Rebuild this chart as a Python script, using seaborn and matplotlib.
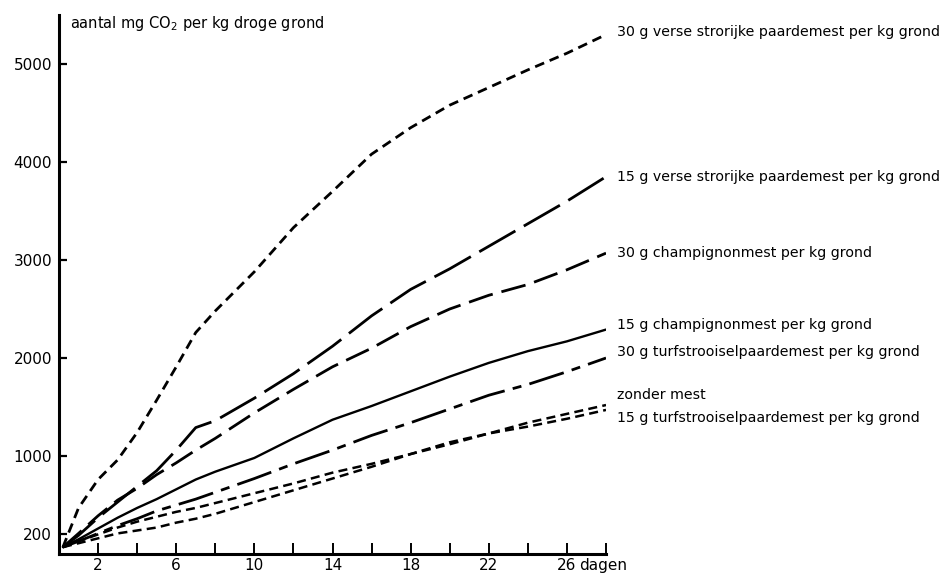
import matplotlib
matplotlib.use("Agg")
import matplotlib.pyplot as plt
import seaborn as sns
import pandas as pd

# ---- data ----
days = [0.2, 1, 2, 3, 4, 5, 6, 7, 8, 10, 12, 14, 16, 18, 20, 22, 24, 26, 28]

verse30 = [70, 470, 760, 960, 1240, 1570, 1910, 2260, 2480, 2880, 3330, 3700,
           4080, 4350, 4580, 4760, 4940, 5110, 5300]
verse15 = [70, 190, 370, 530, 690, 850, 1060, 1290, 1360, 1590, 1840, 2120,
           2430, 2700, 2910, 3140, 3370, 3600, 3850]
champ30 = [70, 210, 390, 550, 670, 810, 930, 1060, 1180, 1440, 1680, 1910,
           2100, 2320, 2500, 2640, 2750, 2900, 3070]
champ15 = [70, 150, 260, 370, 470, 560, 660, 760, 840, 980, 1180, 1370,
           1510, 1660, 1810, 1950, 2070, 2170, 2290]
turf30 = [70, 130, 210, 290, 360, 440, 500, 560, 630, 770, 920, 1060,
          1210, 1340, 1480, 1620, 1730, 1860, 2000]
zonder = [70, 130, 200, 270, 330, 380, 430, 470, 520, 620, 720, 830,
          920, 1020, 1120, 1230, 1340, 1430, 1520]
turf15 = [70, 110, 160, 210, 240, 270, 320, 360, 410, 530, 650, 770,
          890, 1020, 1140, 1230, 1300, 1380, 1470]

series_names = [
    "30 g verse strorijke paardemest per kg grond",
    "15 g verse strorijke paardemest per kg grond",
    "30 g champignonmest per kg grond",
    "15 g champignonmest per kg grond",
    "30 g turfstrooiselpaardemest per kg grond",
    "zonder mest",
    "15 g turfstrooiselpaardemest per kg grond",
]
series_values = [verse30, verse15, champ30, champ15, turf30, zonder, turf15]
label_values = [5330, 3850, 3075, 2340, 2060, 1620, 1385]

yticks = [200, 1000, 2000, 3000, 4000, 5000]
xticks_major = [2, 6, 10, 14, 18, 22, 26]
xticks_minor = [4, 8, 12, 16, 20, 24, 28]
x_unit = "dagen"
y_title = "aantal mg CO$_2$ per kg droge grond"

# ---- styling ----
sns.set_theme(style="white")
plt.rcParams["font.family"] = ["DejaVu Sans"]
plt.rcParams["text.color"] = "black"
plt.rcParams["lines.scale_dashes"] = False

dash_styles = [
    (0, (7, 4.3)),
    (0, (30, 7)),
    (0, (18, 6.5)),
    "-",
    (0, (26, 6, 6.5, 6)),
    (0, (6.5, 3.8)),
    (0, (6.5, 3.8)),
]
widths = [2.0, 2.0, 2.0, 1.7, 2.0, 1.8, 1.8]

frames = []
for name, vals in zip(series_names, series_values):
    frames.append(pd.DataFrame({"dag": days, "co2": vals, "serie": name}))
df = pd.concat(frames, ignore_index=True)

fig = plt.figure(figsize=(9.47, 5.73), dpi=100)
ax = fig.add_axes([59 / 947, 1 - 554 / 573, 547 / 947, 539 / 573])

for name, ls, lw in zip(series_names, dash_styles, widths):
    sub = df[df["serie"] == name]
    sns.lineplot(data=sub, x="dag", y="co2", ax=ax, color="black",
                 linewidth=lw, linestyle=ls, legend=False, sort=False)

ax.set_xlim(0, 28)
ax.set_ylim(0, 5500)
ax.set_xlabel("")
ax.set_ylabel("")

for s in ["top", "right"]:
    ax.spines[s].set_visible(False)
for s in ["left", "bottom"]:
    ax.spines[s].set_visible(True)
    ax.spines[s].set_color("black")
    ax.spines[s].set_linewidth(2.2)

ax.set_yticks(yticks)
ax.set_yticklabels([str(v) for v in yticks])
ax.set_xticks(xticks_major)
ax.set_xticklabels([str(v) for v in xticks_major])
ax.set_xticks(xticks_minor, minor=True)
ax.tick_params(axis="y", direction="in", length=6, width=1.6, colors="black",
               labelsize=11, pad=5, left=True)
ax.tick_params(axis="x", which="both", direction="in", length=8, width=1.4,
               colors="black", labelsize=11, pad=3, bottom=True)
ax.grid(False)

ax.annotate(x_unit, xy=(26, 0), xycoords="data", xytext=(9, -3),
            textcoords="offset points", ha="left", va="top", fontsize=11,
            color="black")

ax.text(0.02, 0.985, y_title, transform=ax.transAxes, ha="left", va="center",
        fontsize=10.5, color="black")

for name, v in zip(series_names, label_values):
    ax.annotate(name, xy=(28, v), xycoords="data", xytext=(8, 0),
                textcoords="offset points", ha="left", va="center",
                fontsize=10.2, color="black", annotation_clip=False)

fig.savefig("out.png", dpi=100)
